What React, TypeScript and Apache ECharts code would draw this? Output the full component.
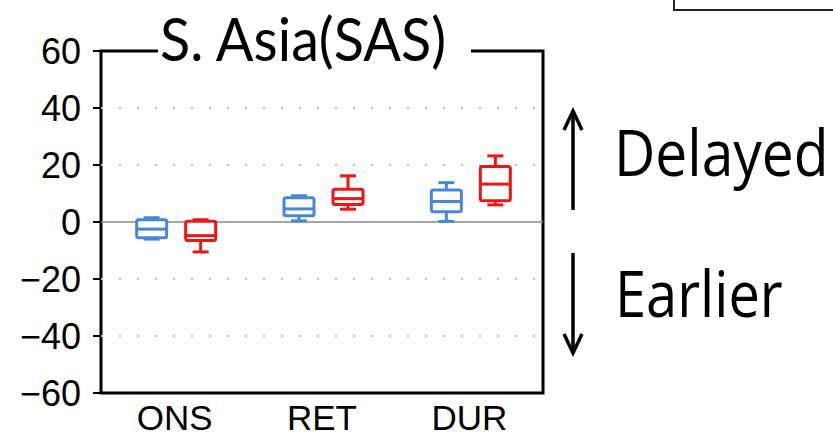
import React, { useEffect, useRef } from 'react';
import * as echarts from 'echarts';

const categories = ['ONS', 'RET', 'DUR'];
// each row: [min, Q1, median, Q3, max]
const blueStats = [
  [-6, -5.5, -2.5, 0.8, 1.5],
  [0.4, 2.2, 4.6, 8.5, 9.2],
  [0.2, 3.6, 7.2, 11.2, 13.8],
];
const redStats = [
  [-10.5, -6.5, -4.8, 0.3, 0.8],
  [4.5, 6.1, 8.2, 11.5, 16.2],
  [6, 7.5, 13.3, 19.5, 23.2],
];
const yMin = -60;
const yMax = 60;
const yStep = 20;
const titleText = 'S. Asia(SAS)';
const upLabel = 'Delayed';
const downLabel = 'Earlier';

const BLUE = '#4787d6';
const RED = '#ee1515';

function makeRender(offset: number, color: string) {
  return (params: any, api: any) => {
    const c = api.value(0);
    const v = [1, 2, 3, 4, 5].map((i) => api.value(i));
    const x = api.coord([c, 0])[0] + offset;
    const Y = (val: number) => api.coord([c, val])[1];
    const hw = 15;
    const cw = 8;
    const ls = { stroke: color, lineWidth: 3, fill: 'none' };
    return {
      type: 'group',
      children: [
        { type: 'line', shape: { x1: x, y1: Y(v[3]), x2: x, y2: Y(v[4]) }, style: ls },
        { type: 'line', shape: { x1: x, y1: Y(v[1]), x2: x, y2: Y(v[0]) }, style: ls },
        { type: 'line', shape: { x1: x - cw, y1: Y(v[4]), x2: x + cw, y2: Y(v[4]) }, style: ls },
        { type: 'line', shape: { x1: x - cw, y1: Y(v[0]), x2: x + cw, y2: Y(v[0]) }, style: ls },
        {
          type: 'rect',
          shape: { x: x - hw, y: Y(v[3]), width: 2 * hw, height: Y(v[1]) - Y(v[3]), r: 2 },
          style: { stroke: color, lineWidth: 3, fill: '#ffffff' },
        },
        { type: 'line', shape: { x1: x - hw, y1: Y(v[2]), x2: x + hw, y2: Y(v[2]) }, style: ls },
      ],
    };
  };
}

export default function App() {
  const ref = useRef<HTMLDivElement>(null);
  useEffect(() => {
    if (!ref.current) return;
    const chart = echarts.init(ref.current, null, { renderer: 'svg' });
    const option: any = {
      animation: false,
      grid: {
        left: 101,
        right: 290,
        top: 51,
        bottom: 45,
        show: true,
        borderColor: '#000',
        borderWidth: 3,
        backgroundColor: '#fff',
      },
      xAxis: {
        type: 'category',
        data: categories,
        axisLine: { show: false },
        axisTick: { show: false },
        splitLine: { show: false },
        axisLabel: {
          fontSize: 35,
          lineHeight: 35,
          color: '#000',
          fontFamily: 'Liberation Sans',
          margin: 7,
        },
      },
      yAxis: {
        type: 'value',
        min: yMin,
        max: yMax,
        interval: yStep,
        axisLine: { show: false },
        axisTick: { show: true, length: 8, lineStyle: { color: '#000', width: 2 } },
        axisLabel: {
          fontSize: 36,
          color: '#000',
          fontFamily: 'Liberation Sans',
          margin: 20,
          formatter: (val: number) => (val < 0 ? '\u2212' + Math.abs(val) : String(val)),
        },
        splitLine: {
          show: true,
          lineStyle: {
            color: ['transparent', '#c0c0c0', '#c0c0c0', 'transparent', '#c0c0c0', '#c0c0c0', 'transparent'],
            type: [2, 16],
            width: 2,
          },
        },
      },
      series: [
        {
          type: 'custom',
          name: 'blue',
          z: 10,
          renderItem: makeRender(-23, BLUE),
          encode: { x: 0, y: [1, 2, 3, 4, 5] },
          data: blueStats.map((s, i) => [i, ...s]),
          markLine: {
            silent: true,
            symbol: ['none', 'none'],
            label: { show: false },
            lineStyle: { color: '#8a8a8a', width: 1.5, type: 'solid' },
            emphasis: { disabled: true },
            data: [{ yAxis: 0 }],
          },
        },
        {
          type: 'custom',
          name: 'red',
          z: 10,
          renderItem: makeRender(26, RED),
          encode: { x: 0, y: [1, 2, 3, 4, 5] },
          data: redStats.map((s, i) => [i, ...s]),
        },
      ],
      graphic: [
        {
          type: 'rect',
          z: 100,
          shape: { x: 158, y: 40, width: 313, height: 20 },
          style: { fill: '#fff' },
        },
        {
          type: 'text',
          z: 101,
          x: 160,
          y: 38,
          scaleX: 0.93,
          style: {
            text: titleText,
            fontFamily: 'Lato',
            fontSize: 60,
            fill: '#000',
            textAlign: 'left',
            textVerticalAlign: 'middle',
          },
        },
        {
          type: 'rect',
          z: 100,
          shape: { x: 674, y: -10, width: 200, height: 20 },
          style: { fill: '#fff', stroke: '#222', lineWidth: 2 },
        },
        {
          type: 'line',
          z: 100,
          shape: { x1: 573, y1: 111, x2: 573, y2: 210 },
          style: { stroke: '#000', lineWidth: 3.5 },
        },
        {
          type: 'polyline',
          z: 100,
          shape: { points: [[564, 130], [573, 111], [582, 130]] },
          style: { stroke: '#000', lineWidth: 3.5, fill: 'none' },
        },
        {
          type: 'line',
          z: 100,
          shape: { x1: 573, y1: 253, x2: 573, y2: 353 },
          style: { stroke: '#000', lineWidth: 3.5 },
        },
        {
          type: 'polyline',
          z: 100,
          shape: { points: [[564, 334], [573, 353], [582, 334]] },
          style: { stroke: '#000', lineWidth: 3.5, fill: 'none' },
        },
        {
          type: 'text',
          z: 100,
          x: 614,
          y: 151.5,
          scaleX: 0.89,
          style: {
            text: upLabel,
            fontFamily: 'Open Sans',
            fontSize: 64,
            fill: '#000',
            textAlign: 'left',
            textVerticalAlign: 'middle',
          },
        },
        {
          type: 'text',
          z: 100,
          x: 615,
          y: 292.5,
          scaleX: 0.875,
          style: {
            text: downLabel,
            fontFamily: 'Open Sans',
            fontSize: 64,
            fill: '#000',
            textAlign: 'left',
            textVerticalAlign: 'middle',
          },
        },
      ],
    };
    chart.setOption(option);
    return () => chart.dispose();
  }, []);
  return (
    <div
      ref={ref}
      style={{ position: 'fixed', left: 0, top: 0, width: 833, height: 438, background: '#fff' }}
    />
  );
}
